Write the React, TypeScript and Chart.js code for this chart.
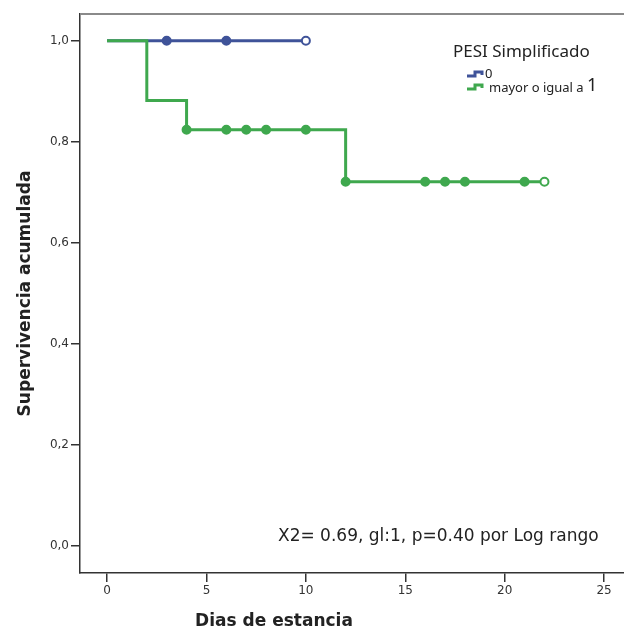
import React, { useEffect, useRef } from "react";
import { Chart, registerables } from "chart.js";

Chart.register(...registerables);

// Kaplan-Meier step data
const group0Times = [0, 10];
const group0Surv = [1.0, 1.0];
const group0CensorTimes = [3, 6, 10];
const group0CensorSurv = [1.0, 1.0, 1.0];

const group1Times = [0, 2, 4, 12, 22];
const group1Surv = [1.0, 0.882, 0.824, 0.721, 0.721];
const group1CensorTimes = [4, 6, 7, 8, 10, 12, 16, 17, 18, 21, 22];
const group1CensorSurv = [0.824, 0.824, 0.824, 0.824, 0.824, 0.721, 0.721, 0.721, 0.721, 0.721, 0.721];

const yTickValues = [0, 0.2, 0.4, 0.6, 0.8, 1.0];
const xTickValues = [0, 5, 10, 15, 20, 25];

const legendTitle = "PESI Simplificado";
const legendLabels = ["0", "mayor o igual a "];
const legendSuffix = "1";
const annotationText = "X2= 0.69, gl:1, p=0.40 por Log rango";
const xTitle = "Dias de estancia";
const yTitle = "Supervivencia acumulada";

const BLUE = "#3f5399";
const GREEN = "#3fa84e";

const pts = (xs: number[], ys: number[]) => xs.map((x, i) => ({ x, y: ys[i] }));

export default function App() {
  const ref = useRef<HTMLCanvasElement | null>(null);
  useEffect(() => {
    document.body.style.margin = "0";
    const canvas = ref.current!;
    const overlay = {
      id: "overlay",
      afterDatasetsDraw(chart: any) {
        const { ctx, chartArea } = chart;
        ctx.save();
        // frame (top)
        ctx.strokeStyle = "#8a8a8a";
        ctx.lineWidth = 2;
        ctx.beginPath();
        ctx.moveTo(chartArea.left, chartArea.top);
        ctx.lineTo(chartArea.right, chartArea.top);
        ctx.stroke();
        // legend
        ctx.fillStyle = "#222";
        ctx.textBaseline = "middle";
        ctx.textAlign = "left";
        ctx.font = "17px 'Noto Sans'";
        ctx.fillText(legendTitle, 453, 52);
        const drawIcon = (x: number, y: number, color: string) => {
          ctx.strokeStyle = color;
          ctx.lineWidth = 3;
          ctx.beginPath();
          ctx.moveTo(x, y + 2);
          ctx.lineTo(x + 8, y + 2);
          ctx.lineTo(x + 8, y - 2);
          ctx.lineTo(x + 15, y - 2);
          ctx.lineTo(x + 15, y + 1);
          ctx.stroke();
        };
        drawIcon(467, 74, BLUE);
        drawIcon(467, 87, GREEN);
        ctx.font = "13px 'Noto Sans'";
        ctx.fillText(legendLabels[0], 485, 74);
        ctx.fillText(legendLabels[1], 489, 88);
        const w = ctx.measureText(legendLabels[1]).width;
        ctx.font = "18px 'Noto Sans'";
        ctx.fillText(legendSuffix, 489 + w, 86);
        // annotation
        ctx.font = "17px 'DejaVu Sans'";
        ctx.fillStyle = "#222";
        ctx.fillText(annotationText, 278, 537);
        // x title
        ctx.font = "bold 17px 'DejaVu Sans'";
        ctx.textAlign = "center";
        ctx.fillText(xTitle, 274, 622);
        ctx.restore();
      },
    };
    const chart = new Chart(canvas, {
      type: "scatter",
      data: {
        datasets: [
          {
            label: "censor1",
            data: pts(group1CensorTimes, group1CensorSurv),
            showLine: false,
            pointRadius: 4,
            pointBorderWidth: 2,
            borderColor: GREEN,
            pointBackgroundColor: group1CensorTimes.map((_, i) => (i === group1CensorTimes.length - 1 ? "#fff" : GREEN)),
            order: 0,
          } as any,
          {
            label: "censor0",
            data: pts(group0CensorTimes, group0CensorSurv),
            showLine: false,
            pointRadius: 4,
            pointBorderWidth: 2,
            borderColor: BLUE,
            pointBackgroundColor: group0CensorTimes.map((_, i) => (i === group0CensorTimes.length - 1 ? "#fff" : BLUE)),
            order: 0,
          },
          {
            label: "mayor o igual a 1",
            data: pts(group1Times, group1Surv),
            showLine: true,
            stepped: true,
            borderColor: GREEN,
            borderWidth: 3,
            pointRadius: 0,
            order: 1,
          },
          {
            label: "0",
            data: pts(group0Times, group0Surv),
            showLine: true,
            stepped: true,
            borderColor: BLUE,
            borderWidth: 3,
            pointRadius: 0,
            order: 2,
          },
        ],
      },
      options: {
        animation: false,
        responsive: false,
        layout: { autoPadding: false, padding: { top: 14, right: 0, left: 0, bottom: 0 } },
        plugins: { legend: { display: false }, tooltip: { enabled: false } },
        scales: {
          x: {
            type: "linear",
            min: -1.36,
            max: 26.0,
            afterFit: (s: any) => { s.height = 62; },
            afterBuildTicks: (s: any) => { s.ticks = xTickValues.map((v) => ({ value: v })); },
            grid: { drawOnChartArea: false, drawTicks: true, tickLength: 9, color: "#333", lineWidth: 1.5 },
            border: { display: true, color: "#333", width: 1.5 },
            ticks: { color: "#333", font: { family: "'DejaVu Sans'", size: 12 }, padding: 2, maxRotation: 0 },
            title: { display: false },
          },
          y: {
            type: "linear",
            min: -0.053,
            max: 1.053,
            afterFit: (s: any) => { s.width = 80; },
            afterBuildTicks: (s: any) => { s.ticks = yTickValues.map((v) => ({ value: v })); },
            grid: { drawOnChartArea: false, drawTicks: true, tickLength: 9, color: "#333", lineWidth: 1.5 },
            border: { display: true, color: "#333", width: 1.5 },
            ticks: {
              color: "#333",
              font: { family: "'DejaVu Sans'", size: 12 },
              padding: 2,
              callback: (v: any) => Number(v).toFixed(1).replace(".", ","),
            },
            title: { display: true, text: yTitle, color: "#222", font: { family: "'DejaVu Sans'", size: 17, weight: "bold" }, padding: { top: 15, bottom: 0 } },
          },
        },
      },
      plugins: [overlay],
    } as any);
    return () => chart.destroy();
  }, []);
  return (
    <div style={{ width: 624, height: 635, background: "#fff" }}>
      <canvas ref={ref} width={624} height={635} />
    </div>
  );
}
